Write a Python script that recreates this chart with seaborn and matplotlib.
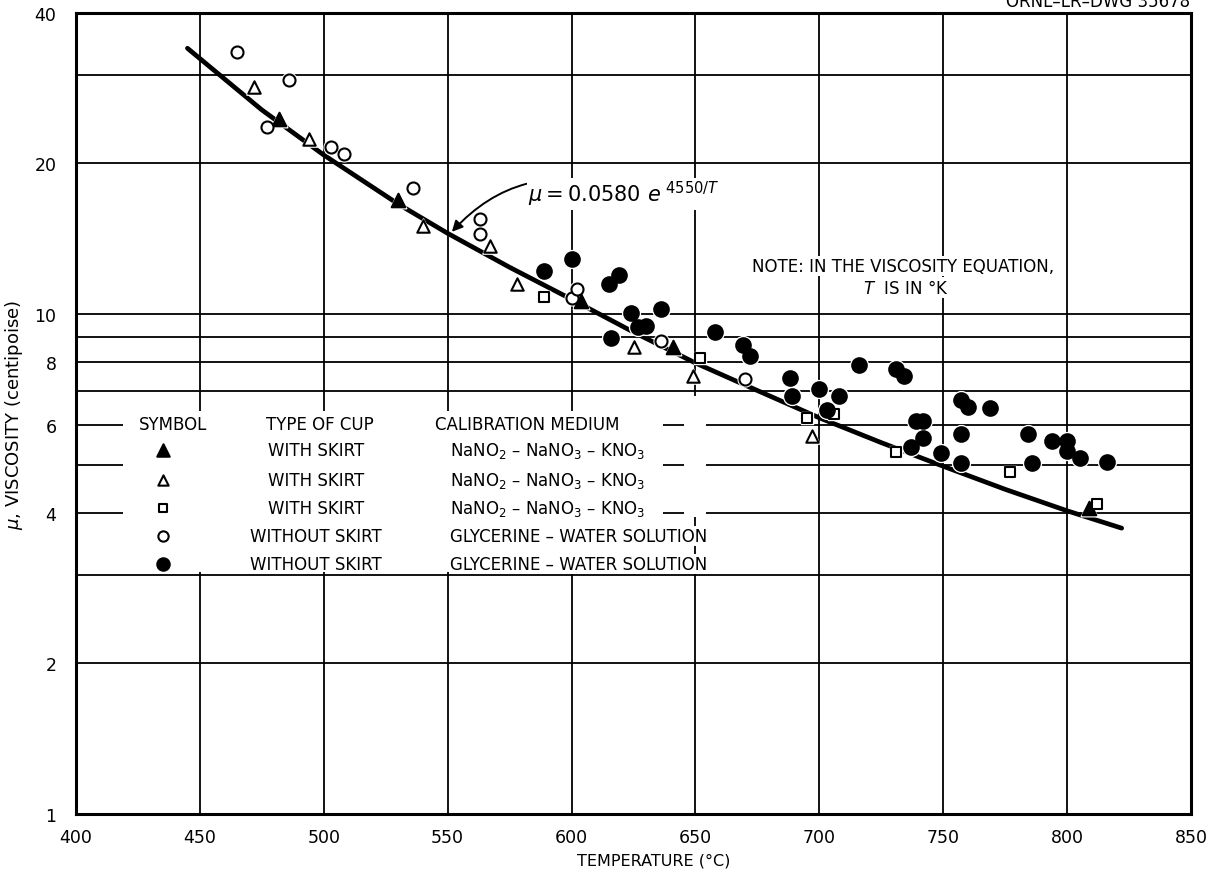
import pandas as pd
import seaborn as sns
import matplotlib.pyplot as plt
from matplotlib.patches import Rectangle

# --- data (temperature in C, viscosity in centipoise) ---
# solid triangle: with skirt, NaNO2-NaNO3-KNO3
solid_tri_T = [482, 530, 604, 641, 809]
solid_tri_mu = [24.6, 16.9, 10.6, 8.6, 4.09]

# open triangle: with skirt, NaNO2-NaNO3-KNO3
open_tri_T = [472, 494, 540, 567, 578, 625, 649, 697]
open_tri_mu = [28.4, 22.4, 15.0, 13.7, 11.5, 8.6, 7.5, 5.7]

# open square: with skirt, NaNO2-NaNO3-KNO3
square_T = [589, 652, 695, 706, 731, 777, 812]
square_mu = [10.8, 8.15, 6.2, 6.3, 5.3, 4.83, 4.17]

# open circle: without skirt, glycerine-water
open_circ_T = [465, 477, 486, 503, 508, 536, 563, 563, 600, 602, 636, 670]
open_circ_mu = [33.4, 23.7, 29.4, 21.6, 20.9, 17.9, 15.5, 14.45, 10.75, 11.2, 8.85, 7.4]

# solid circle: without skirt, glycerine-water
solid_circ_T = [589, 600, 615, 616, 619, 624, 627, 630, 636, 658, 669, 672, 688, 689,
                700, 703, 708, 716, 731, 734, 737, 739, 742, 742, 749, 757, 757, 757,
                760, 769, 784, 786, 794, 800, 800, 805, 816]
solid_circ_mu = [12.2, 12.9, 11.5, 8.94, 11.97, 10.05, 9.4, 9.46, 10.23, 9.22, 8.67, 8.23,
                 7.44, 6.84, 7.08, 6.44, 6.84, 7.91, 7.76, 7.53, 5.43, 6.12, 6.12, 5.64,
                 5.27, 6.73, 5.75, 5.03, 6.51, 6.49, 5.75, 5.04, 5.56, 5.56, 5.33, 5.15, 5.05]

# fitted curve mu = 0.0580 exp(4550/T)
curve_T = [445, 475, 500, 530, 550, 575, 600, 625, 650, 675, 700, 725, 750, 775, 800, 822]
curve_mu = [34.0, 25.6, 20.8, 16.6, 14.5, 12.4, 10.7, 9.2, 7.98, 7.03, 6.2, 5.53, 4.96, 4.46, 4.04, 3.73]

x_ticks = [400, 450, 500, 550, 600, 650, 700, 750, 800, 850]
y_major = [1, 2, 4, 6, 8, 10, 20, 40]
y_minor = [3, 5, 7, 9, 30]

series = [
    ("solid_tri", solid_tri_T, solid_tri_mu),
    ("open_tri", open_tri_T, open_tri_mu),
    ("square", square_T, square_mu),
    ("open_circ", open_circ_T, open_circ_mu),
    ("solid_circ", solid_circ_T, solid_circ_mu),
]
df = pd.concat([pd.DataFrame({"T": t, "mu": m, "kind": k}) for k, t, m in series],
               ignore_index=True)

styles = {
    "solid_tri": dict(marker="^", s=95, fc="black"),
    "open_tri": dict(marker="^", s=80, fc="white"),
    "square": dict(marker="s", s=55, fc="white"),
    "open_circ": dict(marker="o", s=75, fc="white"),
    "solid_circ": dict(marker="o", s=110, fc="black"),
}

sns.set_style("white")
plt.rcParams["font.family"] = ["DejaVu Sans"]
plt.rcParams["mathtext.fontset"] = "dejavusans"
plt.rcParams["text.color"] = "black"
plt.rcParams["axes.labelcolor"] = "black"

fig = plt.figure(figsize=(12.27, 8.79), dpi=100)
ax = fig.add_axes([0.0619, 0.0728, 0.9088, 0.9113])
ax.set_yscale("log")
ax.set_xlim(400, 850)
ax.set_ylim(1, 40)

ax.set_xticks(x_ticks)
ax.set_xticklabels([str(v) for v in x_ticks])
ax.set_yticks(y_major)
ax.set_yticklabels([str(v) for v in y_major])
ax.set_yticks(y_minor, minor=True)
ax.yaxis.set_minor_formatter(plt.NullFormatter())
ax.tick_params(axis="both", which="both", length=0, labelsize=12.5, colors="black")
ax.tick_params(axis="x", pad=10)
ax.tick_params(axis="y", pad=14)
ax.grid(True, which="both", color="black", linewidth=1.3)
ax.set_axisbelow(True)
for sp in ax.spines.values():
    sp.set_color("black")
    sp.set_linewidth(2.2)

# fitted curve
sns.lineplot(x=curve_T, y=curve_mu, color="black", linewidth=3.4, ax=ax, zorder=2)

# small white halos so the line breaks around the symbols, like the drawing
for kind, st in styles.items():
    sub = df[df["kind"] == kind]
    ax.scatter(sub["T"], sub["mu"], marker=st["marker"], s=st["s"] * 1.5,
               color="white", edgecolor="white", zorder=3)
for kind, st in styles.items():
    sub = df[df["kind"] == kind]
    sns.scatterplot(data=sub, x="T", y="mu", marker=st["marker"], s=st["s"],
                    color="black", facecolor=st["fc"], edgecolor="black",
                    linewidth=1.5, ax=ax, zorder=4, legend=False)

ax.set_xlabel("TEMPERATURE (°C)", fontsize=11.5)
ax.xaxis.set_label_coords(0.518, -0.048)
ax.set_ylabel(r"$\mu$, VISCOSITY (centipoise)", fontsize=13)
ax.yaxis.set_label_coords(-0.046, 0.5)

# legend table
tr = ax.transAxes
ax.add_patch(Rectangle((0.0422, 0.302), 0.4843, 0.201, transform=tr,
                       facecolor="white", edgecolor="none", zorder=1.5))
ax.add_patch(Rectangle((0.545, 0.371), 0.02, 0.151, transform=tr,
                       facecolor="white", edgecolor="none", zorder=1.5))
head_y = 0.487
ax.text(0.087, head_y, "SYMBOL", transform=tr, ha="center", va="center", fontsize=12)
ax.text(0.219, head_y, "TYPE OF CUP", transform=tr, ha="center", va="center", fontsize=12)
ax.text(0.322, head_y, "CALIBRATION MEDIUM", transform=tr, ha="left", va="center", fontsize=12)
row_y = [0.4544, 0.417, 0.382, 0.347, 0.312]
cups = ["WITH SKIRT", "WITH SKIRT", "WITH SKIRT", "WITHOUT SKIRT", "WITHOUT SKIRT"]
salt = r"NaNO$_2$ – NaNO$_3$ – KNO$_3$"
media = [salt, salt, salt, "GLYCERINE – WATER SOLUTION", "GLYCERINE – WATER SOLUTION"]
leg_sizes = [80, 55, 40, 55, 80]
for i, (kind, st) in enumerate(styles.items()):
    ax.scatter([0.078], [row_y[i]], transform=tr, marker=st["marker"], s=leg_sizes[i],
               facecolor=st["fc"], edgecolor="black", linewidth=1.5, zorder=4)
    ax.text(0.215, row_y[i], cups[i], transform=tr, ha="center", va="center", fontsize=12)
    ax.text(0.3354, row_y[i], media[i], transform=tr, ha="left", va="center", fontsize=12,
            bbox=dict(facecolor="white", edgecolor="none", pad=0.5), zorder=5)

# equation with curved arrow to the line
ax.annotate(r"$\mu = 0.0580\ e^{\ 4550/T}$", xy=(551.7, 14.6), xytext=(582.5, 17.4),
            ha="left", va="center", fontsize=15,
            bbox=dict(facecolor="white", edgecolor="none", pad=1.0),
            arrowprops=dict(arrowstyle="-|>", connectionstyle="arc3,rad=0.35",
                            color="black", lw=1.4, mutation_scale=16,
                            shrinkA=0, shrinkB=0), zorder=5)

ax.text(0.7417, 0.684, "NOTE: IN THE VISCOSITY EQUATION,", transform=tr,
        ha="center", va="center", fontsize=12,
        bbox=dict(facecolor="white", edgecolor="none", pad=1.0), zorder=5)
ax.text(0.744, 0.657, r"$T$  IS IN °K", transform=tr,
        ha="center", va="center", fontsize=12,
        bbox=dict(facecolor="white", edgecolor="none", pad=1.0), zorder=5)

fig.text(0.97, 0.998, "ORNL–LR–DWG 35678", ha="right", va="center", fontsize=12)

fig.savefig("out.png", dpi=100)
